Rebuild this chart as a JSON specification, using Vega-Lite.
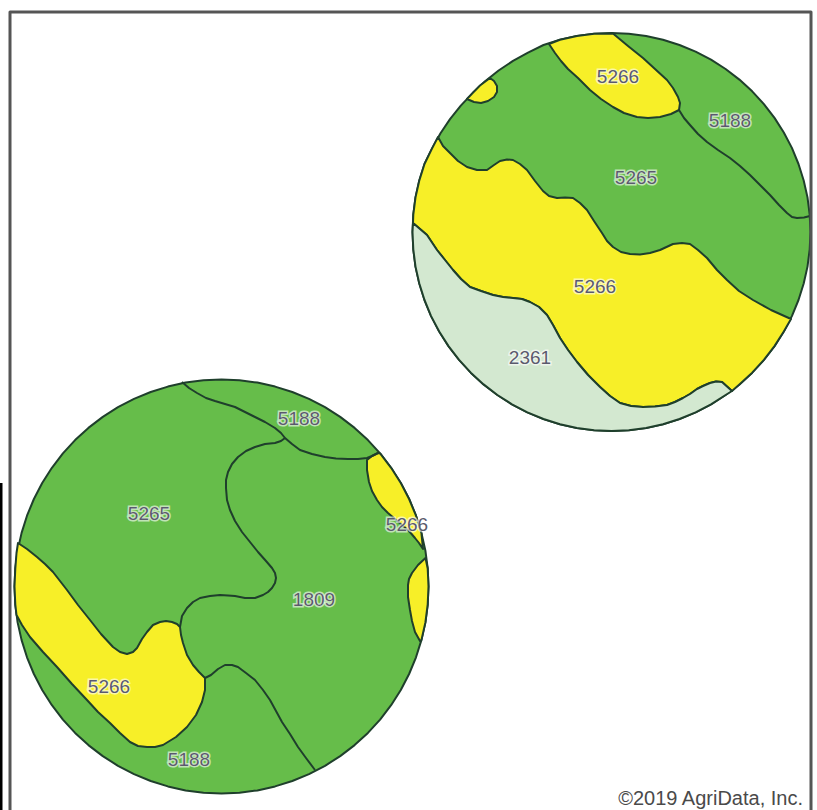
{"$schema":"https://vega.github.io/schema/vega-lite/v6.json","width":817,"height":810,"padding":0,"autosize":{"type":"fit","contains":"padding"},"background":"#ffffff","view":{"stroke":null},"projection":{"type":"identity","scale":1,"translate":[0,0]},
"layer":[
{"data":{"values":[
{"type":"Feature","properties":{"soil":"5265"},"geometry":{"type":"Polygon","coordinates":[[[810.5,232],[809.7,249.3],[807.5,266.6],[803.7,283.5],[798.5,300],[791.9,316.1],[783.8,331.5],[774.5,346.1],[763.9,359.9],[752.2,372.7],[739.4,384.4],[725.6,395],[711,404.3],[695.6,412.4],[679.5,419],[663,424.2],[646.1,428],[628.8,430.2],[611.5,431],[594.2,430.2],[576.9,428],[560,424.2],[543.5,419],[527.4,412.4],[512,404.3],[497.4,395],[483.6,384.4],[470.8,372.7],[459.1,359.9],[448.5,346.1],[439.2,331.5],[431.1,316.1],[424.5,300],[419.3,283.5],[415.5,266.6],[413.3,249.3],[412.5,232],[413.3,214.7],[415.5,197.4],[419.3,180.5],[424.5,164],[432.1,148.4],[440.5,133.3],[450,119.1],[460.8,105.6],[472.6,93.1],[485.1,81.3],[498.6,70.5],[513,60.9],[528,52.6],[543.5,45],[560,39.8],[576.9,36],[594.2,33.8],[611.5,33],[628.8,33.8],[646.1,36],[663,39.8],[679.5,45],[695.6,51.6],[711,59.7],[725.6,69],[739.4,79.6],[752.2,91.3],[763.9,104.1],[774.5,117.9],[783.8,132.5],[791.9,147.9],[798.5,164],[803.7,180.5],[807.5,197.4],[809.7,214.7],[810.5,232]]]}},
{"type":"Feature","properties":{"soil":"5265"},"geometry":{"type":"Polygon","coordinates":[[[428.5,586.5],[427.7,604.5],[425.4,622.4],[421.4,640.1],[416,657.3],[409.1,674],[400.8,690],[391.1,705.2],[380.1,719.6],[367.9,732.9],[354.6,745.1],[340.2,756.1],[325,765.8],[309,774.1],[292.3,781],[275.1,786.4],[257.4,790.4],[239.5,792.7],[221.5,793.5],[203.5,792.7],[185.6,790.4],[167.9,786.4],[150.7,781],[134,774.1],[118,765.8],[102.8,756.1],[88.4,745.1],[75.1,732.9],[62.9,719.6],[51.9,705.2],[42.2,690],[33.9,674],[27,657.3],[21.6,640.1],[17.6,622.4],[15.3,604.5],[14.5,586.5],[15.3,568.5],[17.6,550.6],[21.6,532.9],[27,515.7],[33.9,499],[42.2,483],[51.9,467.8],[62.9,453.4],[75.1,440.1],[88.4,427.9],[102.8,416.9],[118,407.2],[134,398.9],[150.7,392],[167.9,386.6],[185.6,382.6],[203.5,380.3],[221.5,379.5],[239.5,380.3],[257.4,382.6],[275.1,386.6],[292.3,392],[309,398.9],[325,407.2],[340.2,416.9],[354.6,427.9],[367.9,440.1],[380.1,453.4],[391.1,467.8],[400.8,483],[409.1,499],[416,515.7],[421.4,532.9],[425.4,550.6],[427.7,568.5],[428.5,586.5]]]}},
{"type":"Feature","properties":{"soil":"5266"},"geometry":{"type":"Polygon","coordinates":[[[490,78],[494,81],[497,86],[497,92],[494,97],[488,101],[481,103],[474,102],[467,99],[472.6,93.1],[480,85.5],[490,78]]]}},
{"type":"Feature","properties":{"soil":"5266"},"geometry":{"type":"Polygon","coordinates":[[[549,44],[555,53],[561,61],[568,69],[578,78],[590,90],[601,99],[613,107],[624,113],[637,117],[648,118],[660,117],[671,114],[679,110],[680,103],[678,97],[673,88],[667,80],[655,69],[643,58],[628,46],[613,33.5],[594.2,33.8],[576.9,36],[560,39.8],[549,44]]]}},
{"type":"Feature","properties":{"soil":"5266"},"geometry":{"type":"Polygon","coordinates":[[[438,137],[443,146],[450,153],[458,161],[467,167],[477,170],[487,170],[494,165],[500,161],[507,159.5],[513,160],[520,164],[527,170],[535,181],[543,191],[549,196],[557,198],[565,197.5],[573,198],[580,203],[587,210],[594,221],[602,233],[607,241],[613,247],[621,252],[630,254],[640,254.5],[650,253],[660,250],[673,244],[682,243],[690,244],[698,250],[707,258],[717,270],[727,280],[739,291],[753,300],[771,310],[791,319],[783.8,331.5],[774.5,346.1],[763.9,359.9],[752.2,372.7],[739.4,384.4],[732,391],[722,382],[716,381.5],[710,383],[703,386],[697,389],[690,394],[683,398],[675,402],[667,405],[655,406.5],[643,407],[631,406],[620,403],[610,396],[600,387],[588,375],[577,362],[568,350],[560,338],[553,325],[547,315],[539,307],[530,302],[522,299],[513,298],[503,297],[493,295],[481,291],[470,287],[461,279],[453,270],[445,260],[437,250],[427,235],[413,223],[413.3,214.7],[415.5,197.4],[419.3,180.5],[424.5,164],[432.1,148.4],[438,137]]]}},
{"type":"Feature","properties":{"soil":"2361"},"geometry":{"type":"Polygon","coordinates":[[[413,223],[427,235],[437,250],[445,260],[453,270],[461,279],[470,287],[481,291],[493,295],[503,297],[513,298],[522,299],[530,302],[539,307],[547,315],[553,325],[560,338],[568,350],[577,362],[588,375],[600,387],[610,396],[620,403],[631,406],[643,407],[655,406.5],[667,405],[675,402],[683,398],[690,394],[697,389],[703,386],[710,383],[716,381.5],[722,382],[732,391],[725.6,395],[711,404.3],[695.6,412.4],[679.5,419],[663,424.2],[646.1,428],[628.8,430.2],[611.5,431],[594.2,430.2],[576.9,428],[560,424.2],[543.5,419],[527.4,412.4],[512,404.3],[497.4,395],[483.6,384.4],[470.8,372.7],[459.1,359.9],[448.5,346.1],[439.2,331.5],[431.1,316.1],[424.5,300],[419.3,283.5],[415.5,266.6],[413.3,249.3],[412.5,232],[413,223]]]}},
{"type":"Feature","properties":{"soil":"5266"},"geometry":{"type":"Polygon","coordinates":[[[18,543],[27,549],[37,557],[45,564],[53,572],[60,581],[67,590],[78,605],[90,620],[101,634],[113,647],[120,652],[127,654],[133,652],[137,648],[142,639],[147,632],[153,625],[160,622],[166,621],[172,622],[177,624],[180,627],[181,635],[183,643],[187,655],[193,665],[199,672],[205,678],[205,690],[202,702],[196,715],[187,727],[176,737],[163,745],[155,747],[147,747],[138,746],[130,742],[120,733],[110,723],[98,712],[87,700],[72,684],[57,667],[43,652],[30,637],[22,625],[16.5,615],[15.3,604.5],[14.5,586.5],[15.3,568.5],[16.5,553],[18,543]]]}},
{"type":"Feature","properties":{"soil":"5266"},"geometry":{"type":"Polygon","coordinates":[[[378,453],[372,456],[367,460],[367,470],[369,482],[372,491],[377,500],[382,507],[388,513],[395,519],[402,525],[409,531],[415,538],[419,543],[423,549],[421.4,532.9],[416,515.7],[409.1,499],[400.8,483],[391.1,467.8],[380.1,453.4],[378,453]]]}},
{"type":"Feature","properties":{"soil":"5266"},"geometry":{"type":"Polygon","coordinates":[[[425.5,558],[418,565],[412,573],[409,579],[408,585],[408,597],[410,610],[412,621],[415,632],[420,641],[421.4,640.1],[425.4,622.4],[427.7,604.5],[428.5,586.5],[427.7,568.5],[425.5,558]]]}}
]},"mark":{"type":"geoshape","stroke":"#1f3f2c","strokeWidth":2,"strokeJoin":"round"},"encoding":{"fill":{"field":"properties.soil","type":"nominal","legend":null,"scale":{"domain":["5265","5266","2361"],"range":["#66bd4a","#f7ef28","#d3e8d0"]}}}},
{"data":{"values":[
{"type":"Feature","properties":{"id":"a"},"geometry":{"type":"LineString","coordinates":[[679,110],[684,118],[690,125],[698,134],[707,142],[718,150],[730,158],[740,166],[750,175],[760,185],[770,195],[779,205],[787,213],[792,217],[797,218],[804,217.5],[810,216]]}},
{"type":"Feature","properties":{"id":"b"},"geometry":{"type":"LineString","coordinates":[[182,382],[189,388],[197,393],[206,398],[215,401],[225,404],[235,407],[245,412],[255,417],[265,422],[275,428],[281,433],[285,438],[292,444],[300,450],[312,454],[325,457],[336,458.5],[348,459],[358,459],[367,458],[372,456],[378,453]]}},
{"type":"Feature","properties":{"id":"c"},"geometry":{"type":"LineString","coordinates":[[285,438],[281,441],[275,443],[265,444],[255,447],[246,451],[238,457],[232,464],[228,472],[226,480],[226,488],[227,500],[230,510],[235,521],[242,532],[250,542],[258,552],[266,561],[272,568],[275,573],[276,578],[275,583],[272,588],[268,592],[263,595],[255,598],[245,598],[235,596],[228,595.5],[220,595],[210,596],[200,598],[193,602],[187,608],[182,616],[180,627]]}},
{"type":"Feature","properties":{"id":"d"},"geometry":{"type":"LineString","coordinates":[[205,678],[211,675],[218,669],[225,665],[232,665],[238,667],[246,673],[255,680],[263,690],[270,700],[276,711],[282,722],[290,734],[298,747],[306,758],[315,770]]}},
{"type":"Feature","properties":{"id":"frame"},"geometry":{"type":"LineString","coordinates":[[10,815],[10,12],[811,12],[811,815]]}}
]},"mark":{"type":"geoshape","filled":false,"strokeJoin":"round"},"encoding":{"stroke":{"field":"properties.id","type":"nominal","legend":null,"scale":{"domain":["a","b","c","d","frame"],"range":["#1f3f2c","#1f3f2c","#1f3f2c","#1f3f2c","#555555"]}},"strokeWidth":{"condition":{"test":"datum.properties.id==='frame'","value":3},"value":2}}},
{"data":{"values":[{"type":"Feature","properties":{"id":"strip"},"geometry":{"type":"LineString","coordinates":[[1,483],[1,815]]}}]},"mark":{"type":"geoshape","filled":false,"stroke":"#000000","strokeWidth":3},"encoding":{}},
{"data":{"name":"labels","values":[{"x":618,"y":77,"t":"5266"},{"x":730,"y":121,"t":"5188"},{"x":636,"y":178,"t":"5265"},{"x":595,"y":287,"t":"5266"},{"x":530,"y":358,"t":"2361"},{"x":299,"y":419,"t":"5188"},{"x":149,"y":514,"t":"5265"},{"x":407,"y":525,"t":"5266"},{"x":314,"y":600,"t":"1809"},{"x":109,"y":687,"t":"5266"},{"x":189,"y":760,"t":"5188"}]},"mark":{"type":"text","font":"Liberation Sans","fontSize":19,"stroke":"#ffffff","strokeWidth":3,"strokeOpacity":0.6,"fill":"#ffffff","baseline":"middle","align":"center"},"encoding":{"longitude":{"field":"x","type":"quantitative"},"latitude":{"field":"y","type":"quantitative"},"text":{"field":"t"}}},
{"data":{"name":"labels"},"mark":{"type":"text","font":"Liberation Sans","fontSize":19,"fill":"#5a5a6c","baseline":"middle","align":"center"},"encoding":{"longitude":{"field":"x","type":"quantitative"},"latitude":{"field":"y","type":"quantitative"},"text":{"field":"t"}}},
{"data":{"values":[{"x":803,"y":805,"t":"©2019 AgriData, Inc."}]},"mark":{"type":"text","font":"Liberation Sans","fontSize":20,"fill":"#4a4a4a","baseline":"alphabetic","align":"right"},"encoding":{"longitude":{"field":"x","type":"quantitative"},"latitude":{"field":"y","type":"quantitative"},"text":{"field":"t"}}}
]}
